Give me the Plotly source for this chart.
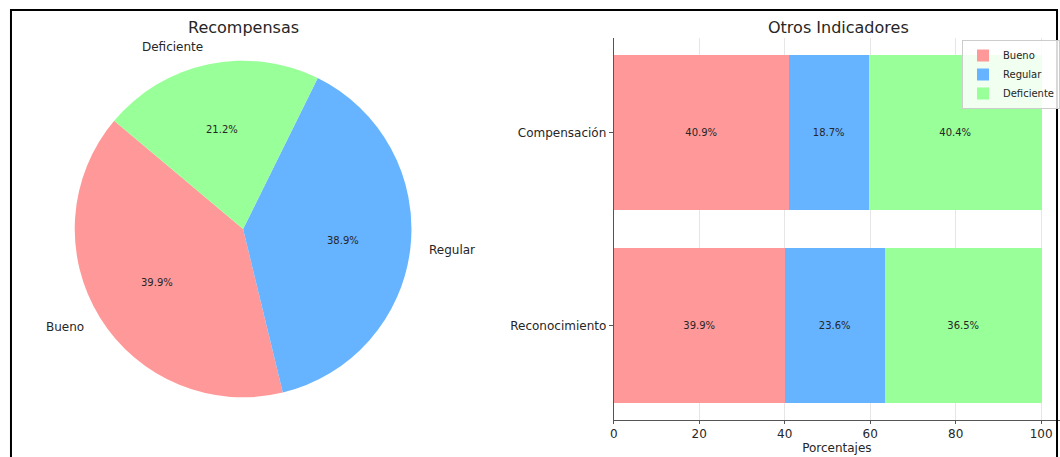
import math
import plotly.graph_objects as go

# ---- data ----
pie_labels = ["Bueno", "Regular", "Deficiente"]
pie_values = [39.9, 38.9, 21.2]

bar_categories = ["Compensación", "Reconocimiento"]
bueno_vals = [40.9, 39.9]
regular_vals = [18.7, 23.6]
deficiente_vals = [40.4, 36.5]

x_ticks = [0, 20, 40, 60, 80, 100]

colors = {"Bueno": "#ff9999", "Regular": "#66b3ff", "Deficiente": "#99ff99"}
TXT = "#262626"
FONT = "DejaVu Sans"

W, H = 1060, 457
# pie geometry (pixels)
cx, cy, R = 240, 229, 169
start_angle = 140

total = sum(pie_values)
first_span = 360 * pie_values[0] / total
# plotly (counterclockwise) places the end of the first slice at 90 - rotation
rotation = 90 - (start_angle + first_span)

fig = go.Figure()

fig.add_trace(go.Pie(
    labels=pie_labels, values=pie_values, sort=False,
    direction="counterclockwise", rotation=rotation,
    marker=dict(colors=[colors[l] for l in pie_labels], line=dict(width=0)),
    textinfo="none", showlegend=False,
    domain=dict(x=[(cx - R) / W, (cx + R) / W], y=[1 - (cy + R) / H, 1 - (cy - R) / H]),
))

# pie labels computed from data (matplotlib-style positions)
ang = start_angle
annotations = []
for lab, v in zip(pie_labels, pie_values):
    span = 360 * v / total
    mid = math.radians(ang + span / 2)
    ang += span
    px = cx + 0.6 * R * math.cos(mid)
    py = cy - 0.6 * R * math.sin(mid)
    annotations.append(dict(x=px / W, y=1 - py / H, xref="paper", yref="paper",
                            xanchor="center", yanchor="middle",
                            text=f"{v:.1f}%", showarrow=False,
                            font=dict(family=FONT, size=10, color=TXT)))
    lx = cx + 1.1 * R * math.cos(mid)
    ly = cy - 1.1 * R * math.sin(mid)
    annotations.append(dict(x=lx / W, y=1 - ly / H, xref="paper", yref="paper",
                            text=lab, showarrow=False, yanchor="middle",
                            xanchor="left" if math.cos(mid) > 0 else "right",
                            font=dict(family=FONT, size=12, color=TXT)))

# titles
annotations.append(dict(x=240 / W, y=1 - 27 / H, xref="paper", yref="paper", text="Recompensas",
                        xanchor="center", yanchor="middle",
                        showarrow=False, font=dict(family=FONT, size=16, color=TXT)))
annotations.append(dict(x=838 / W, y=1 - 27 / H, xref="paper", yref="paper", text="Otros Indicadores",
                        xanchor="center", yanchor="middle",
                        showarrow=False, font=dict(family=FONT, size=16, color=TXT)))

for name, vals in [("Bueno", bueno_vals), ("Regular", regular_vals), ("Deficiente", deficiente_vals)]:
    fig.add_trace(go.Bar(
        y=bar_categories, x=vals, name=name, orientation="h",
        marker=dict(color=colors[name], line=dict(width=0)),
        width=0.8, texttemplate="%{x:.1f}%", textposition="inside",
        insidetextanchor="middle", textangle=0,
        textfont=dict(family=FONT, size=10, color=TXT),
        xaxis="x", yaxis="y",
    ))

fig.update_layout(
    width=W, height=H, margin=dict(l=0, r=0, t=0, b=0),
    paper_bgcolor="white", plot_bgcolor="white",
    barmode="stack", bargap=0,
    font=dict(family=FONT, color=TXT),
    annotations=annotations,
    xaxis=dict(domain=[612 / W, 1.0], range=[0, 104.4], tickvals=x_ticks,
               showgrid=True, gridcolor="#e6e6e6", gridwidth=1, zeroline=False,
               showline=True, linecolor="#555555", linewidth=1,
               ticks="outside", ticklen=3, tickcolor="#555555",
               tickfont=dict(family=FONT, size=12, color=TXT),
               title=dict(text="Porcentajes", font=dict(family=FONT, size=12, color=TXT), standoff=1)),
    yaxis=dict(domain=[1 - 420 / H, 1 - 38 / H], range=[-0.49, 1.49],
               categoryorder="array", categoryarray=bar_categories[::-1],
               showgrid=False, zeroline=False,
               showline=True, linecolor="#555555", linewidth=1,
               ticks="outside", ticklen=4, tickcolor="#555555",
               tickfont=dict(family=FONT, size=12, color=TXT)),
    legend=dict(x=962 / W, y=1 - 40 / H, xanchor="left", yanchor="top",
                bgcolor="rgba(255,255,255,0.85)", bordercolor="#cccccc", borderwidth=1,
                font=dict(family=FONT, size=10, color=TXT), traceorder="normal",
                itemwidth=30, tracegroupgap=0),
    shapes=[dict(type="rect", xref="paper", yref="paper",
                 x0=7 / W, x1=1057 / W, y0=-0.1, y1=1 - 10 / H,
                 line=dict(color="black", width=2), fillcolor="rgba(0,0,0,0)", layer="above")],
)

fig.write_html("out.html")
